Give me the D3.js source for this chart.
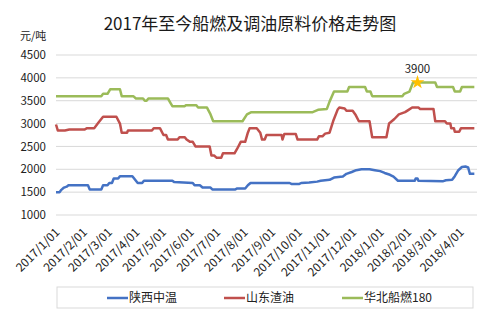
<!DOCTYPE html>
<html>
<head>
<meta charset="utf-8">
<script src="https://cdn.jsdelivr.net/npm/d3@7"></script>
<style>
  body { margin: 0; background: #fff; }
  text { font-family: "Noto Sans CJK SC", "Noto Sans", sans-serif; }
</style>
</head>
<body>
<div id="chart"></div>
<script>
// Price series (date, yuan/ton)
const shaanxi = [
  ["2017-01-01", 1500], ["2017-01-05", 1500], ["2017-01-07", 1550], ["2017-01-10", 1600],
  ["2017-01-13", 1620], ["2017-01-15", 1650], ["2017-02-06", 1650], ["2017-02-08", 1560],
  ["2017-02-21", 1560], ["2017-02-23", 1650], ["2017-02-28", 1650], ["2017-03-02", 1700],
  ["2017-03-05", 1700], ["2017-03-07", 1800], ["2017-03-12", 1800], ["2017-03-14", 1850],
  ["2017-03-28", 1850], ["2017-04-01", 1750], ["2017-04-03", 1700], ["2017-04-08", 1700],
  ["2017-04-10", 1750], ["2017-05-12", 1750], ["2017-05-14", 1720], ["2017-06-04", 1700],
  ["2017-06-06", 1650], ["2017-06-12", 1650], ["2017-06-15", 1600], ["2017-06-24", 1600],
  ["2017-06-26", 1560], ["2017-07-22", 1560], ["2017-07-24", 1580], ["2017-08-02", 1580],
  ["2017-08-05", 1650], ["2017-08-08", 1700], ["2017-09-21", 1700], ["2017-09-23", 1680],
  ["2017-10-02", 1680], ["2017-10-04", 1700], ["2017-10-13", 1710], ["2017-10-22", 1730],
  ["2017-10-26", 1750], ["2017-11-05", 1770], ["2017-11-10", 1820], ["2017-11-20", 1840],
  ["2017-11-24", 1900], ["2017-11-30", 1940], ["2017-12-05", 1980], ["2017-12-11", 2000],
  ["2017-12-20", 2000], ["2017-12-26", 1980], ["2018-01-01", 1960], ["2018-01-06", 1920],
  ["2018-01-12", 1880], ["2018-01-16", 1840], ["2018-01-21", 1750], ["2018-02-09", 1750],
  ["2018-02-10", 1800], ["2018-02-12", 1800], ["2018-02-13", 1750], ["2018-03-13", 1740],
  ["2018-03-16", 1760], ["2018-03-23", 1770], ["2018-03-26", 1850], ["2018-03-30", 1980],
  ["2018-04-03", 2050], ["2018-04-07", 2060], ["2018-04-10", 2040], ["2018-04-12", 1900],
  ["2018-04-17", 1900]
];

const shandong = [
  ["2017-01-01", 2980], ["2017-01-03", 2850], ["2017-01-11", 2850], ["2017-01-16", 2870],
  ["2017-02-02", 2870], ["2017-02-05", 2900], ["2017-02-13", 2900], ["2017-02-17", 3000],
  ["2017-02-21", 3100], ["2017-02-23", 3150], ["2017-03-10", 3150], ["2017-03-14", 3000],
  ["2017-03-16", 2800], ["2017-03-22", 2800], ["2017-03-23", 2850], ["2017-04-19", 2850],
  ["2017-04-21", 2900], ["2017-04-28", 2900], ["2017-05-02", 2750], ["2017-05-05", 2750],
  ["2017-05-07", 2650], ["2017-05-18", 2650], ["2017-05-20", 2700], ["2017-05-26", 2700],
  ["2017-05-28", 2650], ["2017-06-01", 2600], ["2017-06-04", 2600], ["2017-06-07", 2500],
  ["2017-06-23", 2500], ["2017-06-25", 2300], ["2017-06-28", 2300], ["2017-07-01", 2250],
  ["2017-07-06", 2250], ["2017-07-08", 2350], ["2017-07-21", 2350], ["2017-07-24", 2450],
  ["2017-07-28", 2600], ["2017-08-02", 2600], ["2017-08-05", 2800], ["2017-08-07", 2900],
  ["2017-08-15", 2900], ["2017-08-19", 2800], ["2017-08-21", 2650], ["2017-08-24", 2650],
  ["2017-08-26", 2750], ["2017-09-12", 2750], ["2017-09-13", 2650], ["2017-09-15", 2770],
  ["2017-09-28", 2770], ["2017-09-30", 2650], ["2017-10-22", 2650], ["2017-10-24", 2720],
  ["2017-10-28", 2720], ["2017-10-31", 2780], ["2017-11-05", 2800], ["2017-11-09", 3050],
  ["2017-11-14", 3300], ["2017-11-16", 3350], ["2017-11-22", 3330], ["2017-11-24", 3280],
  ["2017-12-01", 3280], ["2017-12-04", 3200], ["2017-12-08", 3050], ["2017-12-20", 3050],
  ["2017-12-23", 2700], ["2018-01-08", 2700], ["2018-01-11", 3000], ["2018-01-14", 3050],
  ["2018-01-17", 3100], ["2018-01-22", 3200], ["2018-01-29", 3250], ["2018-02-02", 3300],
  ["2018-02-06", 3350], ["2018-02-13", 3350], ["2018-02-15", 3320], ["2018-03-02", 3320],
  ["2018-03-04", 3050], ["2018-03-15", 3050], ["2018-03-17", 3000], ["2018-03-21", 3000],
  ["2018-03-22", 2900], ["2018-03-25", 2900], ["2018-03-26", 2820], ["2018-03-31", 2820],
  ["2018-04-02", 2900], ["2018-04-17", 2900]
];

const huabei = [
  ["2017-01-01", 3600], ["2017-02-21", 3600], ["2017-02-23", 3650], ["2017-02-28", 3650],
  ["2017-03-03", 3750], ["2017-03-14", 3750], ["2017-03-16", 3600], ["2017-03-29", 3600],
  ["2017-04-01", 3550], ["2017-04-09", 3550], ["2017-04-11", 3500], ["2017-04-13", 3500],
  ["2017-04-15", 3550], ["2017-05-07", 3550], ["2017-05-09", 3480], ["2017-05-12", 3380],
  ["2017-05-26", 3380], ["2017-05-27", 3400], ["2017-06-08", 3400], ["2017-06-10", 3350],
  ["2017-06-20", 3350], ["2017-06-24", 3200], ["2017-06-27", 3050], ["2017-07-30", 3050],
  ["2017-08-04", 3200], ["2017-08-09", 3250], ["2017-10-17", 3250], ["2017-10-23", 3300],
  ["2017-11-02", 3320], ["2017-11-05", 3480], ["2017-11-10", 3700], ["2017-11-25", 3700],
  ["2017-11-27", 3800], ["2017-12-15", 3800], ["2017-12-17", 3700], ["2017-12-21", 3700],
  ["2017-12-23", 3600], ["2018-01-26", 3600], ["2018-01-28", 3650], ["2018-02-03", 3700],
  ["2018-02-07", 3900], ["2018-03-04", 3900], ["2018-03-06", 3800], ["2018-03-24", 3800],
  ["2018-03-26", 3700], ["2018-04-01", 3700], ["2018-04-03", 3800], ["2018-04-17", 3800]
];

const seriesNames = ["陕西中温", "山东渣油", "华北船燃180"];
const seriesColors = ["#4472c4", "#c0504d", "#9bbb59"];
const yTicks = [1000, 1500, 2000, 2500, 3000, 3500, 4000, 4500];
const xTickDates = ["2017-01-01", "2017-02-01", "2017-03-01", "2017-04-01", "2017-05-01",
  "2017-06-01", "2017-07-01", "2017-08-01", "2017-09-01", "2017-10-01", "2017-11-01",
  "2017-12-01", "2018-01-01", "2018-02-01", "2018-03-01", "2018-04-01"];
const peakPoint = ["2018-02-12", 3900];

const parse = d3.timeParse("%Y-%m-%d");
const fmt = d3.timeFormat("%Y/%-m/%d");

const width = 500, height = 317;
const margin = { top: 55, right: 23, bottom: 102, left: 56 };

const svg = d3.select("#chart").append("svg")
  .attr("width", width)
  .attr("height", height);

const x = d3.scaleTime()
  .domain([parse("2017-01-01"), parse("2018-04-20")])
  .range([margin.left, width - margin.right]);

const y = d3.scaleLinear()
  .domain([1000, 4500])
  .range([height - margin.bottom, margin.top]);

// Title
svg.append("text")
  .attr("x", 250)
  .attr("y", 30)
  .attr("text-anchor", "middle")
  .style("font-size", "17px")
  .style("fill", "#1a1a1a")
  .text("2017年至今船燃及调油原料价格走势图");

svg.append("text")
  .attr("x", 20)
  .attr("y", 40)
  .style("font-size", "11px")
  .style("fill", "#222")
  .text("元/吨");

// Gridlines
svg.append("g")
  .selectAll("line")
  .data(yTicks)
  .enter().append("line")
  .attr("x1", margin.left)
  .attr("x2", width - margin.right)
  .attr("y1", d => y(d))
  .attr("y2", d => y(d))
  .attr("stroke", "#d9d9d9")
  .attr("stroke-width", 1);

// Y axis labels
const yAxis = svg.append("g")
  .attr("transform", `translate(${margin.left - 10},0)`)
  .call(d3.axisLeft(y).tickValues(yTicks).tickSize(0).tickFormat(d3.format("d")));
yAxis.select(".domain").remove();
yAxis.selectAll("text")
  .style("font-size", "11.5px")
  .style("fill", "#222")
  .attr("x", 0);

// X axis labels, rotated
const xAxis = svg.append("g")
  .attr("transform", `translate(0,${y(1000) + 14})`)
  .call(d3.axisBottom(x).tickValues(xTickDates.map(parse)).tickSize(0).tickFormat(fmt));
xAxis.select(".domain").remove();
xAxis.selectAll("text")
  .style("font-size", "12px")
  .style("fill", "#222")
  .attr("text-anchor", "end")
  .attr("dy", 0)
  .attr("y", 0)
  .attr("transform", "translate(4,4) rotate(-45)");

// Lines
const line = d3.line()
  .x(d => x(parse(d[0])))
  .y(d => y(d[1]));

[shaanxi, shandong, huabei].forEach((data, i) => {
  svg.append("path")
    .datum(data)
    .attr("fill", "none")
    .attr("stroke", seriesColors[i])
    .attr("stroke-width", 2.5)
    .attr("stroke-linejoin", "round")
    .attr("d", line);
});

// Peak marker
const px = x(parse(peakPoint[0])), py = y(peakPoint[1]);
svg.append("path")
  .attr("d", d3.symbol().type(d3.symbolStar).size(60))
  .attr("transform", `translate(${px},${py})`)
  .attr("fill", "#ffc000");
svg.append("text")
  .attr("x", px)
  .attr("y", py - 9)
  .attr("text-anchor", "middle")
  .style("font-size", "11.5px")
  .style("fill", "#222")
  .text(peakPoint[1]);

// Legend
const legend = svg.append("g");
legend.append("rect")
  .attr("x", 57).attr("y", 287)
  .attr("width", 416).attr("height", 21)
  .attr("fill", "none")
  .attr("stroke", "#d9d9d9");

const legendX = [107, 224, 342];
seriesNames.forEach((name, i) => {
  const g = legend.append("g").attr("transform", `translate(${legendX[i]},298)`);
  g.append("line")
    .attr("x1", 0).attr("x2", 21)
    .attr("stroke", seriesColors[i])
    .attr("stroke-width", 2.5);
  g.append("text")
    .attr("x", 22)
    .attr("dy", "0.35em")
    .style("font-size", "12px")
    .style("fill", "#222")
    .text(name);
});
</script>
</body>
</html>
